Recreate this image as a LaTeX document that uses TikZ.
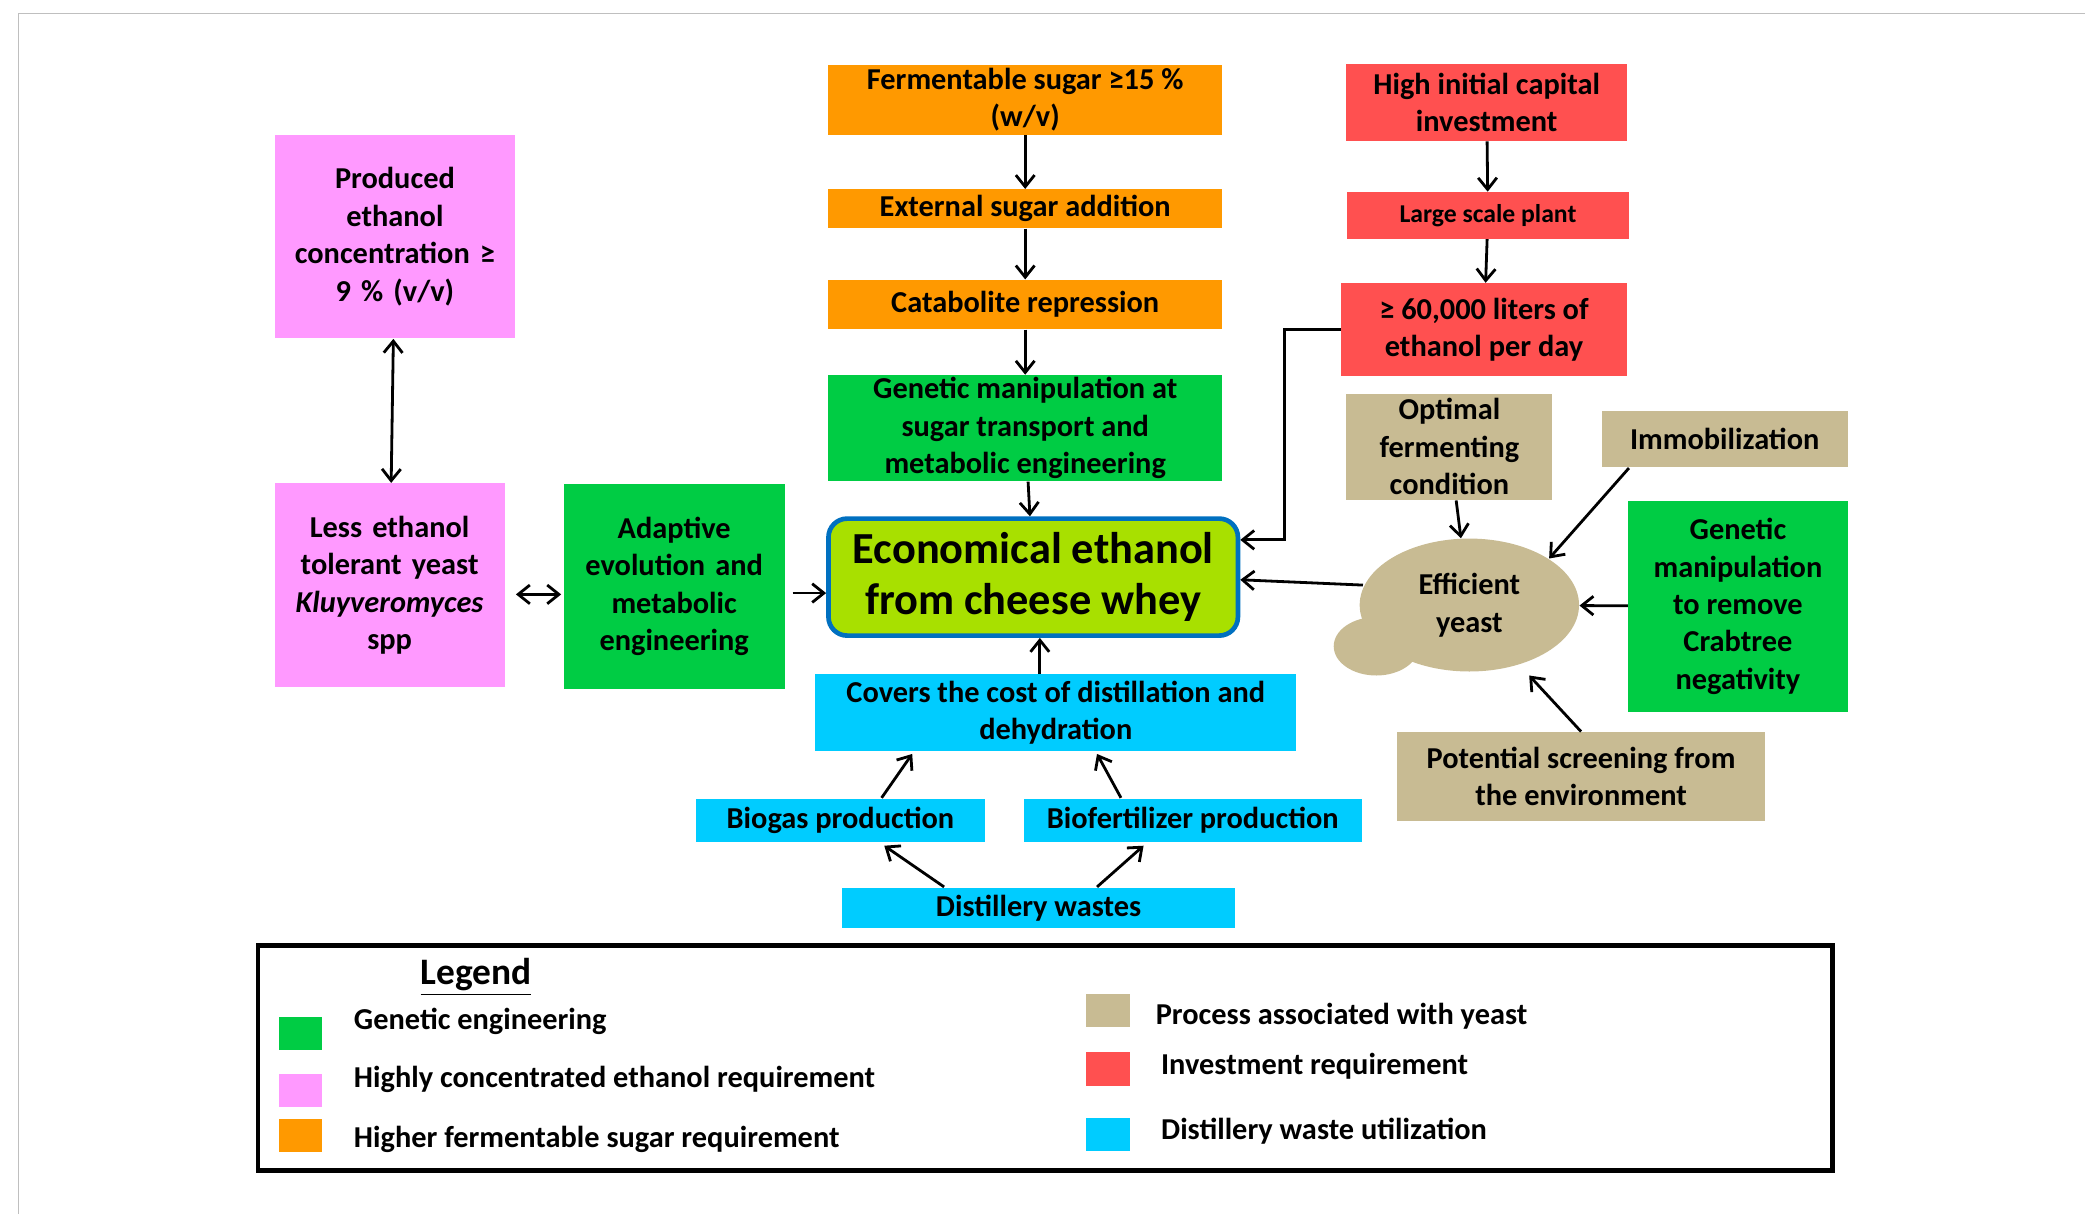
\documentclass[tikz,border=0pt]{standalone}
\usepackage{fontspec}
\setmainfont{Carlito}
\usetikzlibrary{arrows.meta,shapes.geometric}

\definecolor{gepink}{HTML}{FF99FF}
\definecolor{gegreen}{HTML}{00CC44}
\definecolor{georange}{HTML}{FF9900}
\definecolor{gered}{HTML}{FF5050}
\definecolor{getan}{HTML}{C8BB93}
\definecolor{gecyan}{HTML}{00CCFF}
\definecolor{gelime}{HTML}{A8E000}
\definecolor{geblue}{HTML}{0070C0}

\tikzset{
  box/.style={inner sep=1pt, align=center, font=\bfseries\fontsize{13}{16}\selectfont},
  arr/.style={-{Straight Barb[length=5pt,width=8pt]}, line width=1.2pt},
  darr/.style={{Straight Barb[length=5pt,width=8pt]}-{Straight Barb[length=5pt,width=8pt]}, line width=1.2pt},
  legsq/.style={minimum width=0.66cm, minimum height=0.5cm, inner sep=0},
  legtxt/.style={anchor=west, font=\bfseries\fontsize{13}{16}\selectfont}
}

\begin{document}
\begin{tikzpicture}[x=0.02cm,y=-0.02cm]
\useasboundingbox (0,0) rectangle (1568,913);
\draw[gray!50] (14,913) -- (14,10) -- (1568,10);

% left column
\node[box, fill=gepink, minimum width=3.6cm, minimum height=3.06cm, text width=3.4cm]
  (prod) at (297,178) {Produced\\ethanol\\concentration ≥\\9 \% (v/v)};
\node[box, fill=gepink, minimum width=3.46cm, minimum height=3.06cm, text width=3.3cm]
  (less) at (293,440) {Less ethanol\\tolerant yeast\\\textit{Kluyveromyces}\\spp};
\node[box, fill=gegreen, minimum width=3.32cm, minimum height=3.08cm, text width=3.2cm]
  (adapt) at (507,441) {Adaptive\\evolution and\\metabolic\\engineering};

% middle column
\node[box, fill=georange, minimum width=5.92cm, minimum height=1.06cm]
  (ferm) at (771,75) {Fermentable sugar ≥15 \%\\(w/v)};
\node[box, fill=georange, minimum width=5.92cm, minimum height=0.58cm]
  (ext) at (771,157) {External sugar  addition};
\node[box, fill=georange, minimum width=5.92cm, minimum height=0.74cm]
  (cata) at (771,229) {Catabolite repression};
\node[box, fill=gegreen, minimum width=5.92cm, minimum height=1.58cm]
  (gensug) at (771,322) {Genetic manipulation at\\sugar transport and\\metabolic engineering};
\node[box, fill=gelime, draw=geblue, line width=2pt, rounded corners=8pt,
  minimum width=6.16cm, minimum height=1.76cm, font=\bfseries\fontsize{19}{22}\selectfont]
  (econ) at (777,434) {Economical ethanol\\from cheese whey};
\node[box, fill=gecyan, minimum width=7.24cm, minimum height=1.16cm]
  (cost) at (794,536) {Covers the cost of distillation and\\dehydration};
\node[box, fill=gecyan, minimum width=4.34cm, minimum height=0.66cm]
  (biogas) at (632,617) {Biogas production};
\node[box, fill=gecyan, minimum width=5.08cm, minimum height=0.66cm]
  (biofert) at (897,617) {Biofertilizer production};
\node[box, fill=gecyan, minimum width=5.9cm, minimum height=0.6cm]
  (waste) at (781,683) {Distillery wastes};

% right column
\node[box, fill=gered, minimum width=4.22cm, minimum height=1.16cm]
  (capital) at (1118,77) {High initial  capital\\investment};
\node[box, fill=gered, minimum width=4.24cm, minimum height=0.7cm,
  font=\bfseries\fontsize{11}{14}\selectfont]
  (plant) at (1119,162) {Large scale plant};
\node[box, fill=gered, minimum width=4.3cm, minimum height=1.4cm]
  (liters) at (1116,248) {≥ 60,000 liters of\\ethanol per day};
\node[box, fill=getan, minimum width=3.1cm, minimum height=1.6cm]
  (optim) at (1090,336) {Optimal\\fermenting\\condition};
\node[box, fill=getan, minimum width=3.7cm, minimum height=0.84cm]
  (immob) at (1297,330) {Immobilization};
\node[box, fill=gegreen, minimum width=3.3cm, minimum height=3.18cm]
  (crab) at (1307,456) {Genetic\\manipulation\\to remove\\Crabtree\\negativity};
\node[box, fill=getan, minimum width=5.54cm, minimum height=1.34cm]
  (screen) at (1189,584) {Potential screening from\\the environment};
\fill[getan] (1035,486) ellipse [x radius=32, y radius=22];
\node[box, fill=getan, ellipse, minimum width=3.3cm, minimum height=2cm]
  (yeast) at (1105,455) {Efficient\\yeast};

% end points
\coordinate (l1) at (388,447);
\coordinate (a1) at (422,447);
\coordinate (a2) at (596,446);
\coordinate (c1) at (782,507);
\coordinate (b1) at (663,600);
\coordinate (b2) at (843,600);
\coordinate (c2) at (686,567);
\coordinate (c3) at (825,567);
\coordinate (w1) at (710,667);
\coordinate (w2) at (825,667);
\coordinate (g1) at (665,636);
\coordinate (g2) at (860,636);
\coordinate (y1) at (1025,440);
\coordinate (i1) at (1225,352);
\coordinate (y2) at (1165,420);
\coordinate (y3) at (1150,508);

% connectors
\draw[darr] (prod) -- (less);
\draw[darr] (l1) -- (a1);
\draw[arr] (a2) -- (econ.west |- a2);
\draw[arr] (ferm) -- (ext);
\draw[arr] (ext) -- (cata);
\draw[arr] (cata) -- (gensug);
\draw[arr] (gensug) -- (econ);
\draw[arr] (c1) -- (c1 |- econ.south);
\draw[arr] (b1) -- (c2);
\draw[arr] (b2) -- (c3);
\draw[arr] (w1) -- (g1);
\draw[arr] (w2) -- (g2);
\draw[arr] (capital) -- (plant);
\draw[arr] (plant) -- (liters);
\draw[arr] (liters.west) -- ++(-42,0) |- (econ.east |- 0,406);
\draw[arr] (y1) -- (econ.east |- 0,436);
\draw[arr] (optim) -- (yeast);
\draw[arr] (i1) -- (y2);
\draw[arr] (crab) -- (yeast);
\draw[arr] (screen.north) -- (y3);

% legend
\draw[line width=2pt] (194,711) rectangle (1378,880);
\node[font=\bfseries\fontsize{16}{19}\selectfont] (legend) at (358,735) {\underline{Legend}};
\node[legsq, fill=gegreen] (lg1) at (226,777) {};
\node[legsq, fill=gepink] (lg2) at (226,820) {};
\node[legsq, fill=georange] (lg3) at (226,854) {};
\node[legtxt] at (260,768) {Genetic engineering};
\node[legtxt] at (260,812) {Highly concentrated  ethanol requirement};
\node[legtxt] at (260,857) {Higher fermentable sugar requirement};
\node[legsq, fill=getan] (lg4) at (833,760) {};
\node[legsq, fill=gered] (lg5) at (833,804) {};
\node[legsq, fill=gecyan] (lg6) at (833,853) {};
\node[legtxt] at (863,764) {Process associated with yeast};
\node[legtxt] at (867,802) {Investment requirement};
\node[legtxt] at (867,851) {Distillery waste utilization};
\end{tikzpicture}
\end{document}
